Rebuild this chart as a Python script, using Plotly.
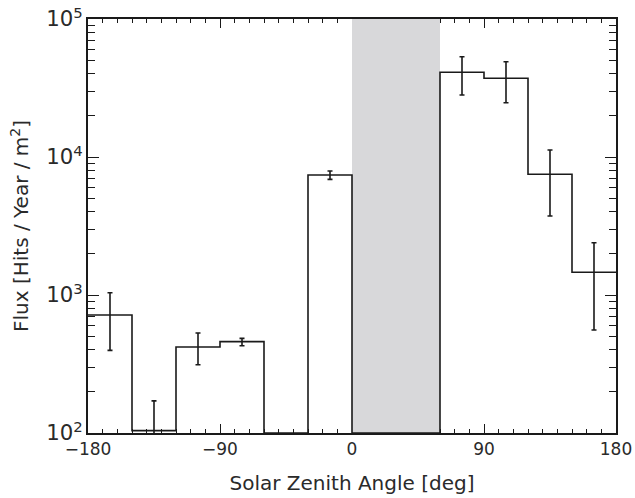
import plotly.graph_objects as go

# ---- data ----
bin_edges = [-180, -150, -120, -90, -60, -30, 0, 30, 60, 90, 120, 150, 180]
flux      = [716, 104, 420, 459, None, 7400, None, None, 41100, 37200, 7490, 1460]
err_high  = [1039, 171, 530, 485, None, 7920, None, None, 53300, 49000, 11240, 2390]
err_low   = [397, 50, 312, 429, None, 6890, None, None, 28150, 24750, 3740, 557]
shade_range = [0, 60]
y_range_exp = [2, 5]
x_ticks = [-180, -90, 0, 90, 180]
x_tick_text = ["\u2212180", "\u221290", "0", "90", "180"]

ymin = 10 ** y_range_exp[0]
ymax = 10 ** y_range_exp[1]

# step outline
step_x = list(bin_edges)
step_y = [v if v is not None else ymin for v in flux] + [flux[-1]]

# error bars at bin centres
cx, cy, ep, em = [], [], [], []
for i, v in enumerate(flux):
    if v is None:
        continue
    cx.append(0.5 * (bin_edges[i] + bin_edges[i + 1]))
    cy.append(v)
    ep.append(err_high[i] - v)
    em.append(v - err_low[i])

ink = "#1a1a1a"
fig = go.Figure()

fig.add_trace(go.Scatter(
    x=[shade_range[0], shade_range[1], shade_range[1], shade_range[0], shade_range[0]],
    y=[ymin, ymin, ymax, ymax, ymin],
    fill="toself", fillcolor="#d8d8da", mode="lines",
    line=dict(width=0, color="#d8d8da"), showlegend=False, hoverinfo="skip"))

fig.add_trace(go.Scatter(
    x=step_x, y=step_y, mode="lines", line_shape="hv",
    line=dict(color=ink, width=1.6), showlegend=False))

fig.add_trace(go.Scatter(
    x=cx, y=cy, mode="markers",
    marker=dict(size=1, color="rgba(0,0,0,0)"),
    error_y=dict(type="data", symmetric=False, array=ep, arrayminus=em,
                 color=ink, thickness=1.6, width=2.5),
    showlegend=False))

font = dict(family="DejaVu Sans", size=17, color="#2a2a2a")

fig.update_layout(
    width=635, height=498,
    margin=dict(l=88, r=19, t=19, b=65),
    plot_bgcolor="white", paper_bgcolor="white",
    font=font,
)
fig.update_xaxes(
    range=[bin_edges[0], bin_edges[-1]],
    tickvals=x_ticks, ticktext=x_tick_text,
    ticks="inside", ticklen=9, tickwidth=1.4, tickcolor=ink,
    minor=dict(ticks="inside", ticklen=4, tickwidth=1.2, tickcolor=ink, dtick=10, showgrid=False),
    showline=True, linecolor=ink, linewidth=1.8, mirror="ticks",
    showgrid=False, zeroline=False, layer="below traces", automargin=False,
    title=dict(text="Solar Zenith Angle [deg]", standoff=18),
    tickfont=dict(size=17),
)
fig.update_yaxes(
    type="log", range=y_range_exp, dtick=1, exponentformat="power", showexponent="all",
    ticks="inside", ticklen=11, tickwidth=1.4, tickcolor=ink,
    minor=dict(ticks="inside", ticklen=7, tickwidth=1.2, tickcolor=ink, dtick="D1", showgrid=False),
    showline=True, linecolor=ink, linewidth=1.8, mirror="ticks",
    showgrid=False, zeroline=False, layer="below traces", automargin=False,
    title=dict(text="Flux [Hits / Year / m<sup>2</sup>]", standoff=12),
    tickfont=dict(size=17),
)

fig.write_html("out.html")
